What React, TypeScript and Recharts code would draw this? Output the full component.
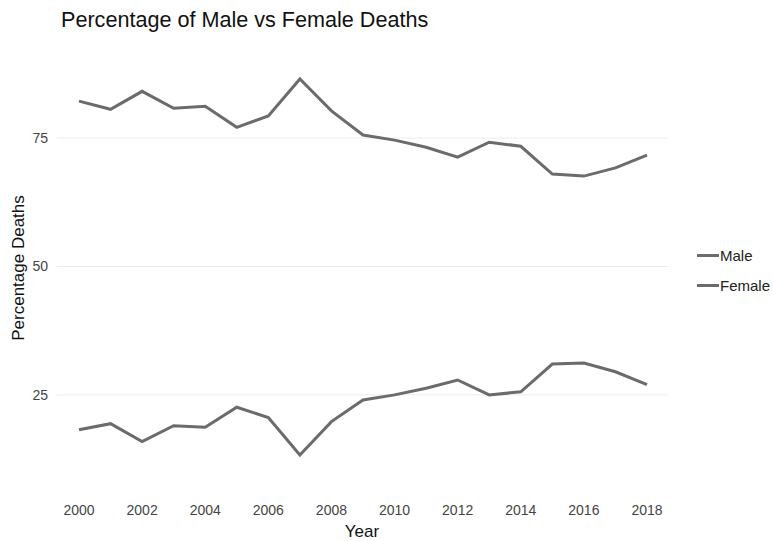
import { LineChart, Line, XAxis, YAxis, CartesianGrid } from 'recharts';

const years = [2000, 2001, 2002, 2003, 2004, 2005, 2006, 2007, 2008, 2009, 2010, 2011, 2012, 2013, 2014, 2015, 2016, 2017, 2018];
const maleDeaths = [82.2, 80.6, 84.1, 80.8, 81.2, 77.1, 79.3, 86.5, 80.3, 75.6, 74.6, 73.2, 71.3, 74.2, 73.4, 68.0, 67.6, 69.2, 71.7];
const femaleDeaths = [18.2, 19.4, 15.9, 19.0, 18.7, 22.6, 20.6, 13.3, 19.8, 24.0, 25.0, 26.3, 27.9, 25.0, 25.6, 31.0, 31.2, 29.5, 27.0];
const xTicks = [2000, 2002, 2004, 2006, 2008, 2010, 2012, 2014, 2016, 2018];
const yTicks = [25, 50, 75];
const seriesNames = ['Male', 'Female'];

const data = years.map((year, i) => ({
  year,
  Male: maleDeaths[i],
  Female: femaleDeaths[i],
}));

const lineColor = '#6b6b6b';
const font = '"Liberation Sans", Arial, sans-serif';

const App = () => {
  return (
    <div style={{ position: 'absolute', left: 0, top: 0, width: 773, height: 541, background: '#fff', fontFamily: font }}>
      <div style={{ position: 'absolute', left: 61, top: 7, fontSize: 21.6, color: '#111' }}>
        Percentage of Male vs Female Deaths
      </div>
      <div
        style={{
          position: 'absolute',
          left: 19,
          top: 268,
          transform: 'translate(-50%, -50%) rotate(-90deg)',
          fontSize: 17,
          color: '#111',
          whiteSpace: 'nowrap',
        }}
      >
        Percentage Deaths
      </div>
      <div style={{ position: 'absolute', left: 362, top: 532, transform: 'translate(-50%, -50%)', fontSize: 17, color: '#111' }}>
        Year
      </div>
      <div style={{ position: 'absolute', left: 697, top: 240, fontSize: 15, color: '#222' }}>
        {seriesNames.map((name) => (
          <div key={name} style={{ display: 'flex', alignItems: 'center', height: 30 }}>
            <div style={{ width: 22, height: 3, backgroundColor: lineColor, marginRight: 1 }} />
            <span>{name}</span>
          </div>
        ))}
      </div>
      <LineChart width={773} height={541} data={data} margin={{ top: 60, right: 105, bottom: 0, left: 0 }}>
        <CartesianGrid vertical={false} horizontalValues={yTicks} stroke="#ececec" strokeWidth={1} />
        <XAxis
          dataKey="year"
          type="number"
          domain={[2000, 2018]}
          ticks={xTicks}
          padding={{ left: 22, right: 21 }}
          axisLine={false}
          tickLine={false}
          tickSize={0}
          tickMargin={31}
          height={67}
          tick={{ fill: '#444', fontSize: 14 }}
        />
        <YAxis
          type="number"
          domain={[9.6, 90.2]}
          ticks={yTicks}
          allowDataOverflow
          axisLine={false}
          tickLine={false}
          tickSize={0}
          tickMargin={9}
          width={57}
          tick={{ fill: '#444', fontSize: 14 }}
        />
        <Line type="linear" dataKey="Male" stroke={lineColor} strokeWidth={3} dot={false} isAnimationActive={false} />
        <Line type="linear" dataKey="Female" stroke={lineColor} strokeWidth={3} dot={false} isAnimationActive={false} />
      </LineChart>
    </div>
  );
};

export default App;
